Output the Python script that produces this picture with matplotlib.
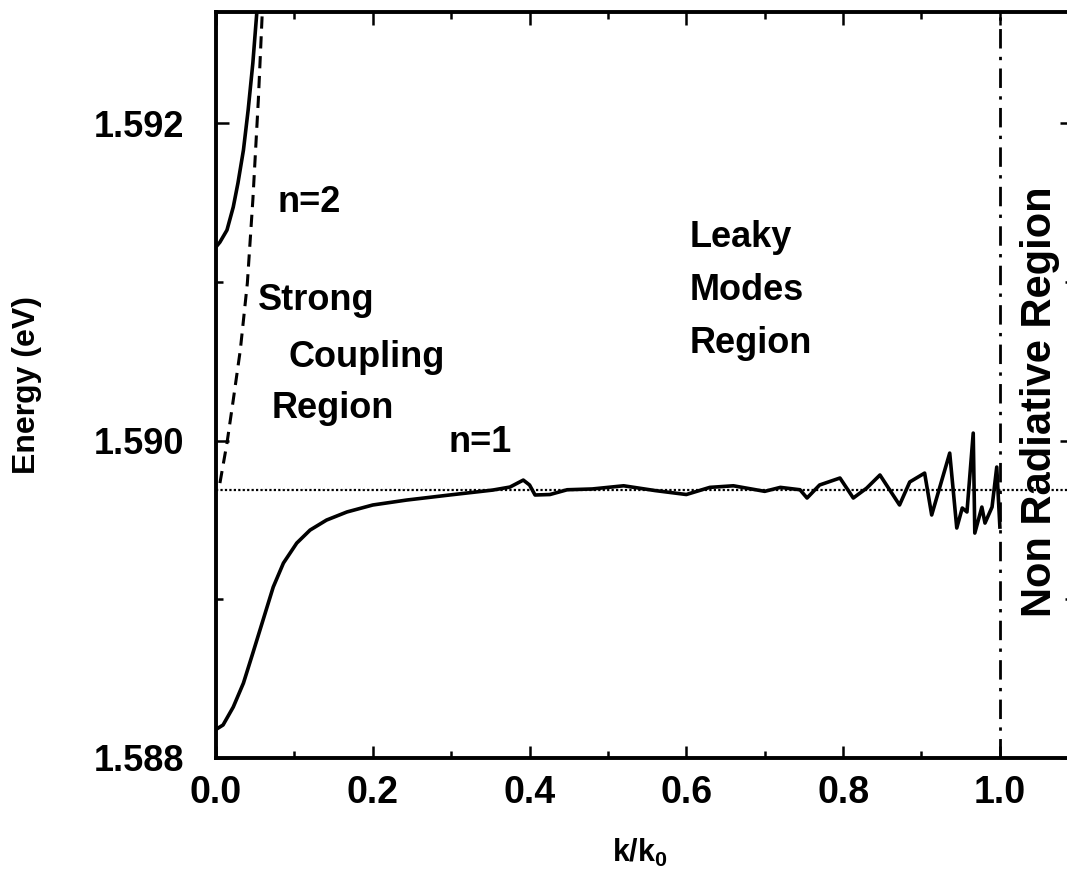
import matplotlib
matplotlib.use('Agg')
import matplotlib.pyplot as plt
from matplotlib.ticker import MultipleLocator, FormatStrFormatter

plt.rcParams['font.family'] = ['Liberation Sans', 'DejaVu Sans']
plt.rcParams['font.weight'] = 'bold'

# exciton energy (dotted line)
E0 = 1.58969

# lower branch n=1, k/k0 and energy in eV
k_n1 = [0.0, 0.009, 0.022, 0.035, 0.047, 0.060, 0.073, 0.086, 0.103, 0.120,
        0.141, 0.167, 0.200, 0.243, 0.298, 0.353, 0.375, 0.392, 0.400, 0.407,
        0.426, 0.448, 0.48, 0.52, 0.56, 0.60, 0.63, 0.66, 0.70, 0.72,
        0.745, 0.754, 0.770, 0.796, 0.813, 0.830, 0.847, 0.872, 0.885, 0.904,
        0.913, 0.936, 0.945, 0.952, 0.958, 0.966, 0.968, 0.977, 0.981, 0.990,
        0.996, 1.0]
E_n1 = [1.58818, 1.588208, 1.588321, 1.588472, 1.588661, 1.588869, 1.589077,
        1.589228, 1.589354, 1.589436, 1.589499, 1.58955, 1.589594, 1.589625,
        1.589657, 1.589688, 1.589707, 1.589751, 1.58972, 1.589657, 1.589660,
        1.589690, 1.589695, 1.589715, 1.589685, 1.589660, 1.589705, 1.589715,
        1.589680, 1.589705, 1.589690, 1.589638, 1.58972, 1.589764, 1.589638,
        1.5897, 1.589783, 1.589594, 1.589739, 1.589795, 1.589531, 1.589921,
        1.589449, 1.589575, 1.58955, 1.590047, 1.589417, 1.589581, 1.58948,
        1.589581, 1.589833, 1.589455]

# upper branch n=2
k_n2 = [0.0, 0.005, 0.014, 0.022, 0.028, 0.035, 0.041, 0.047, 0.052, 0.054]
E_n2 = [1.59122, 1.59125, 1.591326, 1.591471, 1.591622, 1.59183, 1.592082,
        1.592378, 1.592693, 1.5929]

# photon line (dashed)
k_ph = [0.005, 0.014, 0.022, 0.031, 0.040, 0.047, 0.054, 0.059, 0.061]
E_ph = [1.589732, 1.589984, 1.590255, 1.59057, 1.590992, 1.591515, 1.592145,
        1.592693, 1.5929]

k_light = 1.0

fig = plt.figure(figsize=(10.67, 8.74), dpi=100)
ax = fig.add_axes([216 / 1067, 1 - 758 / 874, 856 / 1067, 746 / 874])

ax.axhline(E0, color='black', lw=1.6, ls=(0, (1, 1)))
ax.axvline(k_light, color='black', lw=2.0, ls=(0, (7, 3, 1.2, 3)))
ax.plot(k_n1, E_n1, color='black', lw=2.6, solid_joinstyle='round')
ax.plot(k_n2, E_n2, color='black', lw=2.6, solid_joinstyle='round')
ax.plot(k_ph, E_ph, color='black', lw=2.2, ls=(0, (4, 2.5)))

ax.set_xlim(0, 1.092)
ax.set_ylim(1.588, 1.5927)

ax.xaxis.set_major_locator(MultipleLocator(0.2))
ax.xaxis.set_minor_locator(MultipleLocator(0.1))
ax.yaxis.set_major_locator(MultipleLocator(0.002))
ax.yaxis.set_minor_locator(MultipleLocator(0.001))
ax.xaxis.set_major_formatter(FormatStrFormatter('%.1f'))
ax.yaxis.set_major_formatter(FormatStrFormatter('%.3f'))

ax.tick_params(which='both', direction='in', top=True, right=True, width=1.8)
ax.tick_params(which='major', length=9)
ax.tick_params(which='minor', length=5)
ax.tick_params(axis='x', labelsize=27, pad=12)
ax.tick_params(axis='y', labelsize=26, pad=23)
for sp in ax.spines.values():
    sp.set_linewidth(2.8)

ax.set_xlabel('k/k$_\\mathregular{0}$', fontsize=22, fontweight='bold')
ax.xaxis.set_label_coords(0.495, -0.106)
ax.set_ylabel('Energy (eV)', fontsize=23, fontweight='bold')
ax.yaxis.set_label_coords(-0.203, 0.5)

txt = dict(fontsize=26, fontweight='bold', va='baseline', ha='left')
ax.text(0.078, 1.591439, 'n=2', **txt)
ax.text(0.0536, 1.590822, 'Strong', **txt)
ax.text(0.093, 1.590463, 'Coupling', **txt)
ax.text(0.071, 1.590142, 'Region', **txt)
ax.text(0.296, 1.589928, 'n=1', **txt)
ax.text(0.6046, 1.591219, 'Leaky', **txt)
ax.text(0.6046, 1.590885, 'Modes', **txt)
ax.text(0.6046, 1.590551, 'Region', **txt)
ax.text(1.051, 1.590243, 'Non Radiative Region', fontsize=30, fontweight='bold',
        rotation=90, ha='center', va='center')

fig.savefig('out.png', dpi=100)
